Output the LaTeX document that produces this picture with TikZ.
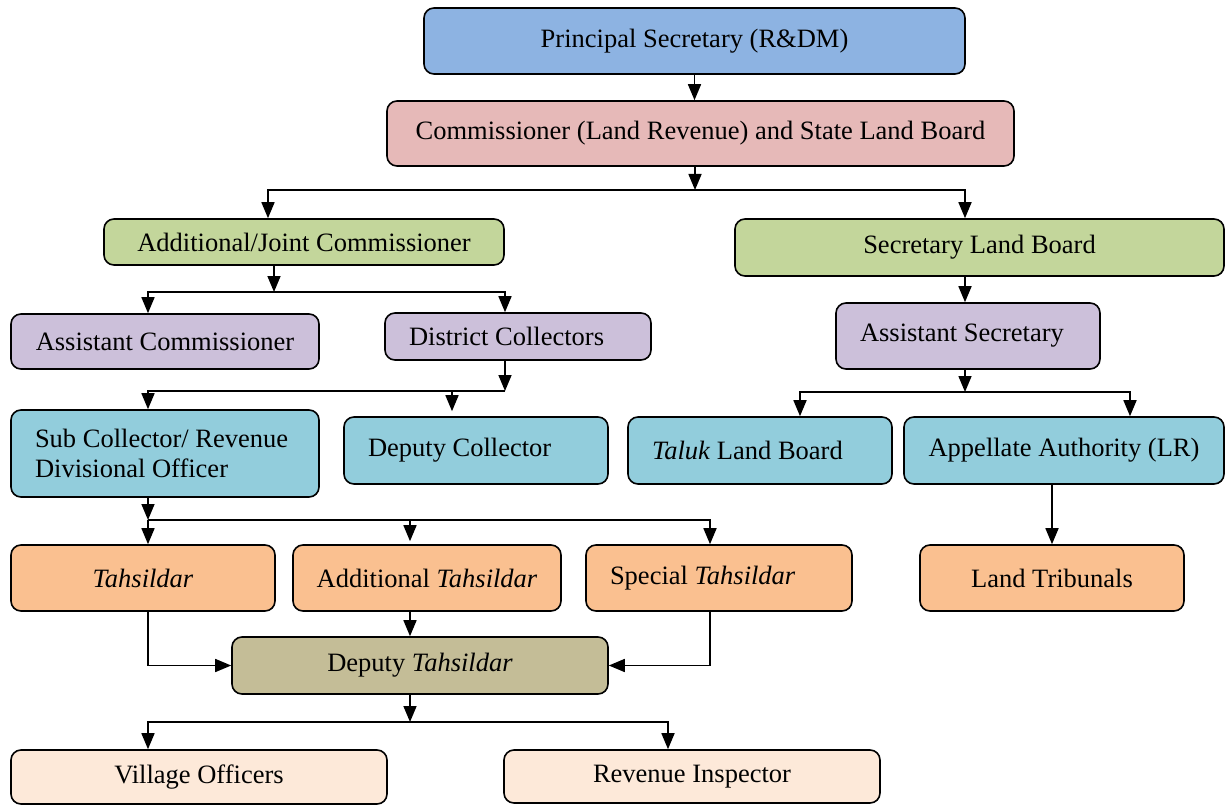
\documentclass[tikz,border=0pt]{standalone}
\usepackage{fontspec}
\setmainfont{Liberation Serif}
\usepackage{xcolor}
\definecolor{psblue}{HTML}{8DB3E2}
\definecolor{cpink}{HTML}{E6B9B8}
\definecolor{lgreen}{HTML}{C3D69B}
\definecolor{lilac}{HTML}{CCC0DA}
\definecolor{aqua}{HTML}{92CDDC}
\definecolor{apricot}{HTML}{FAC090}
\definecolor{olive}{HTML}{C4BD97}
\definecolor{peach}{HTML}{FDE9D9}
\tikzset{%
    post/.style={draw=black, line width=1.6pt, rounded corners=10pt, inner sep=0pt, align=flush center, font=\fontsize{26.5}{30}\selectfont},
    lpost/.style={post, align=flush left, inner xsep=24pt},
    link/.style={line width=1.6pt, -{Triangle[width=13pt,length=16pt]}}
}
\usetikzlibrary{arrows.meta, positioning}

\begin{document}
\begin{tikzpicture}[x=1pt, y=-1pt]
                        \useasboundingbox (0,0) rectangle (1225,805);
                        \node[post, fill=psblue, minimum width=541pt, minimum height=66pt] (ps) at (694.5,41) {Principal Secretary (R\&DM)};
                        \node[post, fill=cpink, minimum width=627pt, minimum height=65pt] (comm) at (700.5,133.5) {Commissioner (Land Revenue) and State Land Board};
                        \node[post, fill=lgreen, minimum width=400pt, minimum height=46pt] (ajc) at (304,242) {Additional/Joint Commissioner};
                        \node[post, fill=lgreen, minimum width=489pt, minimum height=57pt] (slb) at (979.5,247.5) {Secretary Land Board};
                        \node[post, fill=lilac, minimum width=308pt, minimum height=55pt] (ac) at (165,341.5) {Assistant Commissioner};
                        \node[lpost, fill=lilac, text width=218pt, minimum height=47pt] (dc) at (518,336.5) {District Collectors};
                        \node[lpost, fill=lilac, text width=216pt, minimum height=66pt] (as) at (968,336) {Assistant Secretary};
                        \node[lpost, fill=aqua, text width=260pt, inner xsep=24pt, minimum height=87pt] (sc) at (165,453.5) {Sub Collector/ Revenue\\Divisional Officer};
                        \node[lpost, fill=aqua, text width=216pt, minimum height=67pt] (depc) at (476,450.5) {Deputy Collector};
                        \node[lpost, fill=aqua, text width=216pt, minimum height=67pt] (taluk) at (760,450.5) {\textit{Taluk} Land Board};
                        \node[post, fill=aqua, minimum width=320pt, minimum height=67pt] (aa) at (1064,450.5) {Appellate Authority (LR)};
                        \node[post, fill=apricot, minimum width=264pt, minimum height=66pt] (tah) at (143,578) {\textit{Tahsildar}};
                        \node[post, fill=apricot, minimum width=268pt, minimum height=66pt] (addt) at (427,578) {Additional \textit{Tahsildar}};
                        \node[lpost, fill=apricot, text width=218pt, minimum height=66pt] (spt) at (719,578) {Special \textit{Tahsildar}};
                        \node[post, fill=apricot, minimum width=264pt, minimum height=66pt] (lt) at (1052,578) {Land Tribunals};
                        \node[post, fill=olive, minimum width=376pt, minimum height=57pt] (dt) at (420,665.5) {Deputy \textit{Tahsildar}};
                        \node[post, fill=peach, minimum width=376pt, minimum height=54pt] (vo) at (199,777) {Village Officers};
                        \node[post, fill=peach, minimum width=376pt, minimum height=53pt] (ri) at (692,776.5) {Revenue Inspector};
                        \coordinate (b1) at (695,190);
                        \coordinate (b1w) at (268,190);
                        \coordinate (b1e) at (965,190);
                        \coordinate (b2) at (274,292);
                        \coordinate (b2w) at (148,292);
                        \coordinate (b2e) at (505,292);
                        \coordinate (b3) at (505,391);
                        \coordinate (b3w) at (148,391);
                        \coordinate (b3m) at (452,391);
                        \coordinate (b5) at (965,392);
                        \coordinate (b5w) at (800,392);
                        \coordinate (b5e) at (1130,392);
                        \coordinate (b6) at (148,520);
                        \coordinate (b6m) at (410,520);
                        \coordinate (b6e) at (710,520);
                        \coordinate (b7) at (410,722);
                        \coordinate (b7w) at (148,722);
                        \coordinate (b7e) at (668,722);
                        \draw[link] (ps.south) -- (ps.south |- comm.north);
                        \draw[link] (b1 |- comm.south) -- (b1);
                        \draw[link] (b1) -| (b1w |- ajc.north);
                        \draw[link] (b1) -| (b1e |- slb.north);
                        \draw[link] (b2 |- ajc.south) -- (b2);
                        \draw[link] (b2) -| (b2w |- ac.north);
                        \draw[link] (b2) -| (b2e |- dc.north);
                        \draw[link] (b3 |- dc.south) -- (b3);
                        \draw[link] (b3) -| (b3w |- sc.north);
                        \draw[link, shorten >=5pt] (b3m) -- (b3m |- depc.north);
                        \draw[link] (b1e |- slb.south) -- (b1e |- as.north);
                        \draw[link] (b5 |- as.south) -- (b5);
                        \draw[link] (b5) -| (b5w |- taluk.north);
                        \draw[link] (b5) -| (b5e |- aa.north);
                        \draw[link] (lt.north |- aa.south) -- (lt.north);
                        \draw[link] (b6 |- sc.south) -- (b6);
                        \draw[link] (b6) -- (b6 |- tah.north);
                        \draw[link] (b6) -| (b6e |- spt.north);
                        \draw[link, shorten >=3pt] (b6m) -- (b6m |- addt.north);
                        \draw[link] (b6 |- tah.south) |- (dt.west);
                        \draw[link] (b6m |- addt.south) -- (b6m |- dt.north);
                        \draw[link] (b6e |- spt.south) |- (dt.east);
                        \draw[link] (b7 |- dt.south) -- (b7);
                        \draw[link] (b7) -| (b7w |- vo.north);
                        \draw[link] (b7) -| (b7e |- ri.north);
                    \end{tikzpicture}
\end{document}
